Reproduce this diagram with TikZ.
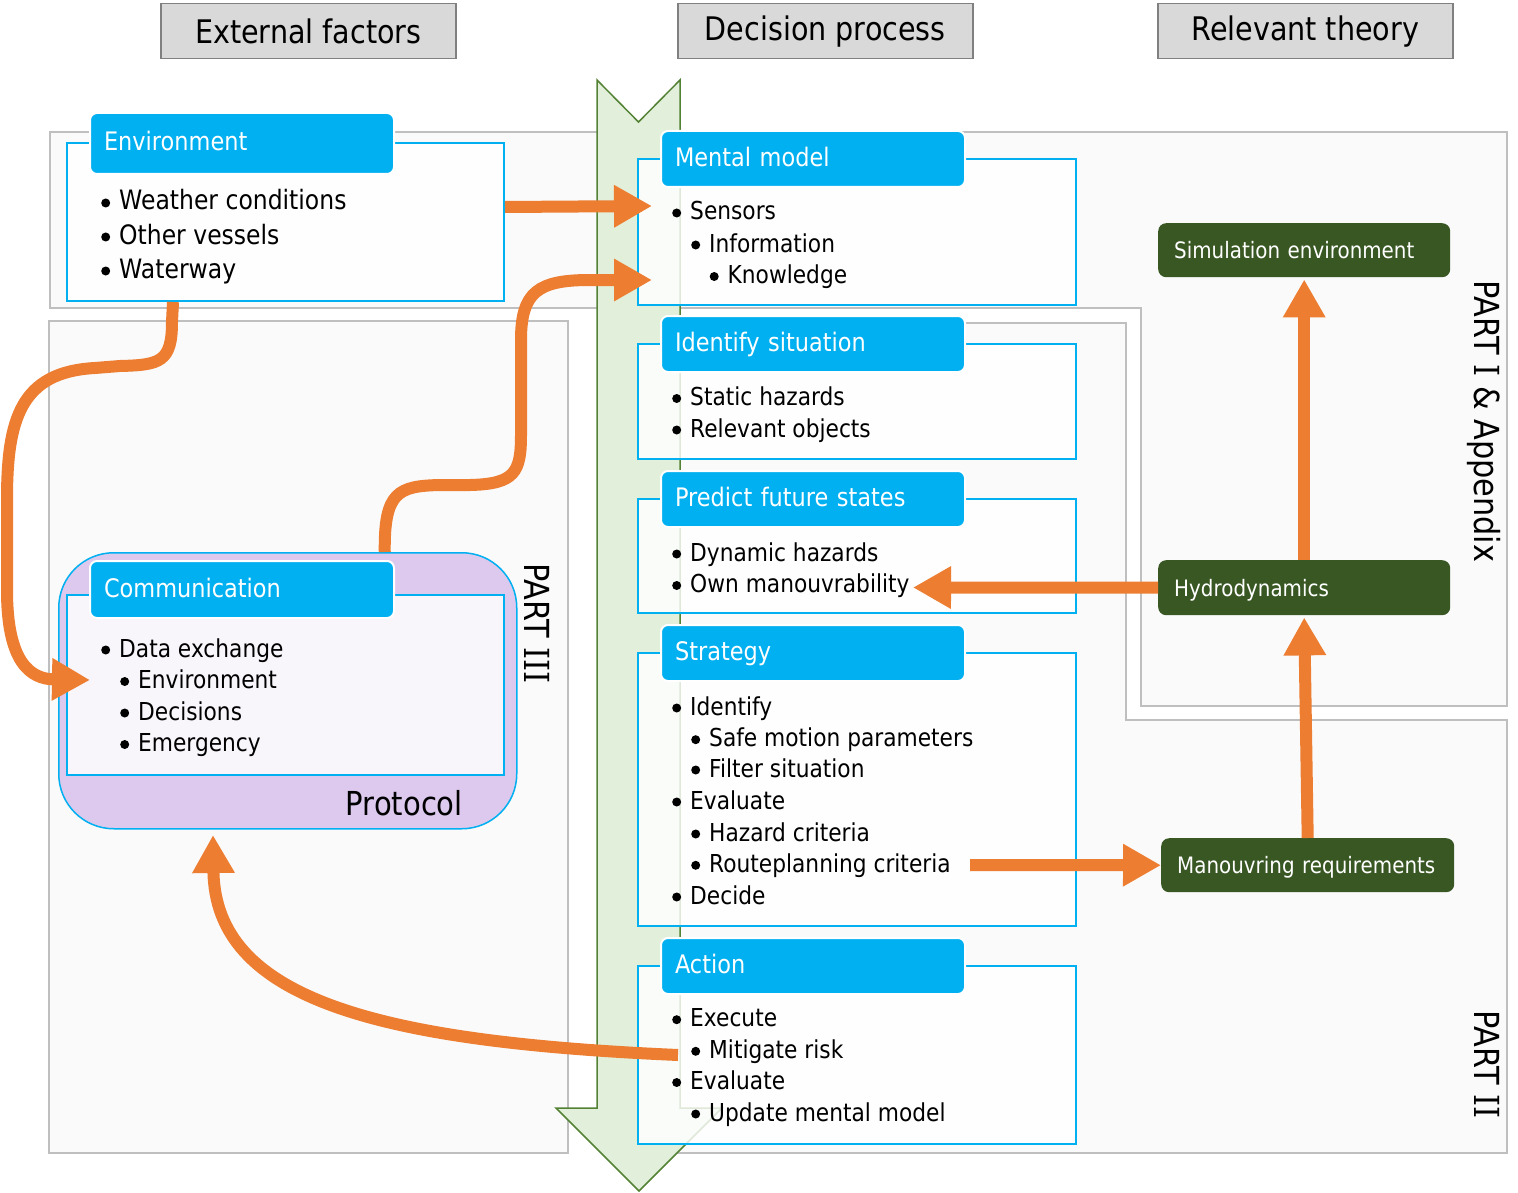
\documentclass[tikz,border=0pt]{standalone}
\usepackage{fontspec}
\setmainfont{DejaVu Sans}[FakeStretch=0.88]
\newfontfamily\serifI{DejaVu Serif}[FakeStretch=0.88]
\usetikzlibrary{arrows.meta}
\definecolor{tabblue}{HTML}{00B0F0}
\definecolor{orng}{HTML}{ED7D31}
\definecolor{dkgreen}{HTML}{385723}
\definecolor{lgreen}{HTML}{E2EFDA}
\definecolor{mgreen}{HTML}{548235}
\definecolor{hdrgray}{HTML}{D9D9D9}
\definecolor{hdrline}{HTML}{808080}
\definecolor{regfill}{HTML}{FAFAFA}
\definecolor{regline}{HTML}{BFBFBF}
\definecolor{lavender}{RGB}{221,200,238}
\newcommand\myfs[1]{\fontsize{#1}{#1}\selectfont}
\newcommand\sI{{\serifI I}}
% bullet line: [style]{name}{x}{baseline y}{text}
\newcommand\blitem[5][btxt]{%
  \node[#1] (#2) at (#3,#4) {#5};
  \fill ([xshift=-13.3pt,yshift=7pt]#2.base west) circle (4.5pt);}
\begin{document}
\begin{tikzpicture}[x=1pt,y=-1pt,
 region/.style={fill=regfill,draw=regline,line width=1.5pt},
 hdr/.style={fill=hdrgray,draw=hdrline,line width=1.5pt,anchor=north west,minimum width=295pt,minimum height=55pt,inner sep=0pt,font=\myfs{32.5}},
 bbox/.style={draw=tabblue,line width=2pt,fill=white,fill opacity=0.82,anchor=north west,inner sep=0pt},
 tabbox/.style={fill=tabblue,draw=white,line width=2pt,rounded corners=7pt,text=white,anchor=north west,text width=276pt,inner xsep=14pt,inner ysep=0pt,align=left,minimum height=56pt,text height=20pt,text depth=5pt,font=\myfs{25.5}},
 gbox/.style={fill=dkgreen,rounded corners=8pt,text=white,anchor=north west,text width=260pt,inner xsep=16pt,inner ysep=0pt,align=left,minimum height=54pt,text height=18pt,text depth=1pt,font=\myfs{22.6}},
 btxt/.style={anchor=base west,inner sep=0pt,font=\myfs{24.7}},
 btxtL/.style={anchor=base west,inner sep=0pt,font=\myfs{26.7}},
 oarrow/.style={draw=orng,line width=12pt,-{Triangle[length=38pt,width=40pt]}},
 part/.style={rotate=-90,anchor=base west,inner sep=0pt,font=\myfs{34.5}}]

\path[use as bounding box] (0,0) rectangle (1518,1193);

% background regions
\draw[region] (50,132) -- (1507,132) -- (1507,706) -- (1141,706) -- (1141,308) -- (50,308) -- cycle;
\draw[region] (49,321) rectangle (568,1153);
\draw[region] (605,323) -- (1126,323) -- (1126,720) -- (1507,720) -- (1507,1153) -- (605,1153) -- cycle;

% headers
\node[hdr] (h1) at (160,3) {External factors};
\node[hdr] (h2) at (677,3) {Decision process};
\node[hdr] (h3) at (1157,3) {Relevant theory};

% big process arrow
\draw[fill=lgreen,draw=mgreen,line width=1.5pt] (597,80) -- (638.5,122) -- (680,80) -- (680,1108) -- (722,1108) -- (639,1191) -- (556,1108) -- (597,1108) -- cycle;

% protocol
\node[draw=tabblue,line width=1.5pt,fill=lavender,rounded corners=55pt,anchor=north west,minimum width=458pt,minimum height=276pt,inner sep=0pt] (proto) at (58,552) {};
\node[anchor=base east,inner sep=0pt,font=\myfs{33}] (protolbl) at (463,815) {Protocol};

% content boxes
\node[bbox,minimum width=437pt,minimum height=158pt] (envb) at (66,142) {};
\node[bbox,minimum width=437pt,minimum height=180pt] (comb) at (66,594) {};
\node[bbox,minimum width=438pt,minimum height=146pt] (mmb) at (637,158) {};
\node[bbox,minimum width=438pt,minimum height=115pt] (isb) at (637,343) {};
\node[bbox,minimum width=438pt,minimum height=114pt] (pfb) at (637,498) {};
\node[bbox,minimum width=438pt,minimum height=273pt] (stb) at (637,652) {};
\node[bbox,minimum width=438pt,minimum height=178pt] (acb) at (637,965) {};

% tabs
\node[tabbox,minimum height=61pt] (envt) at (89,112) {Environment};
\node[tabbox,minimum height=57pt] (comt) at (89,560) {Communication};
\node[tabbox] (mmt) at (660,130) {Mental model};
\node[tabbox] (ist) at (660,315) {Identify situation};
\node[tabbox] (pft) at (660,470) {Predict future states};
\node[tabbox] (stt) at (660,624) {Strategy};
\node[tabbox] (act) at (660,937) {Action};

% bullet texts
\blitem[btxtL]{e1}{119}{210}{Weather conditions}
\blitem[btxtL]{e2}{119}{244}{Other vessels}
\blitem[btxtL]{e3}{119}{278}{Waterway}

\blitem{c1}{119}{657}{Data exchange}
\blitem{c2}{138}{688.5}{Environment}
\blitem{c3}{138}{720}{Decisions}
\blitem{c4}{138}{751.5}{Emergency}

\blitem{m1}{690}{220}{Sensors}
\blitem{m2}{709}{252}{Information}
\blitem{m3}{727.5}{283.5}{Knowledge}

\blitem{i1}{690}{405.5}{Static hazards}
\blitem{i2}{690}{437}{Relevant objects}

\blitem{p1}{690}{561}{Dynamic hazards}
\blitem{p2}{690}{592.5}{Own manouvrability}

\blitem{s1}{690}{715}{Identify}
\blitem{s2}{709}{746.7}{Safe motion parameters}
\blitem{s3}{709}{777}{Filter situation}
\blitem{s4}{690}{809}{Evaluate}
\blitem{s5}{709}{841}{Hazard criteria}
\blitem{s6}{709}{872.3}{Routeplanning criteria}
\blitem{s7}{690}{904}{Decide}

\blitem{a1}{690}{1026.7}{Execute}
\blitem{a2}{709}{1058.3}{Mitigate risk}
\blitem{a3}{690}{1089.5}{Evaluate}
\blitem{a4}{709}{1121}{Update mental model}

% theory boxes
\node[gbox] (sim) at (1158,223) {Simulation environment};
\node[gbox,minimum height=55pt] (hyd) at (1158,560) {Hydrodynamics};
\node[gbox,text width=261pt] (man) at (1161,838) {Manouvring requirements};

% part labels
\node[part] (pt1) at (1474,280) {PART \sI{} \& Appendix};
\node[part] (pt3) at (524,563) {PART \sI\sI\sI};
\node[part] (pt2) at (1474,1010) {PART \sI\sI};

% connector end points
\coordinate (mmin1) at (652,206);
\coordinate (mmin2) at (652,280);
\coordinate (comin) at (90,680);
\coordinate (protoin) at (213,835);
\coordinate (pfin) at (913,587.5);
\coordinate (stout) at (970,865);

% connectors
\draw[oarrow] ([yshift=15pt]envb.east) -- (mmin1);
\draw[oarrow] ([xshift=97pt]proto.north) .. controls (384,492) and (398,486) .. (440,485) -- (470,485) .. controls (515,484) and (521,472) .. (521,435) -- (521,340) .. controls (521,292) and (538,280) .. (590,280) -- (mmin2);
\draw[oarrow] ([xshift=-112.5pt]envb.south) -- (172,322) .. controls (172,362) and (160,365) .. (120,366) -- (95,368) .. controls (20,372) and (7,420) .. (7,500) -- (7,590) .. controls (7,662) and (30,679) .. (comin);
\draw[oarrow] ([xshift=41pt]acb.west) .. controls (380,1042) and (215,1000) .. (protoin);
\draw[oarrow] (hyd.west) -- (pfin);
\draw[oarrow] (stout) -- (man.west);
\draw[oarrow] (man.north) -- ([yshift=-2pt]hyd.south);
\draw[oarrow] (hyd.north) -- ([yshift=-2pt]sim.south);
\end{tikzpicture}
\end{document}
